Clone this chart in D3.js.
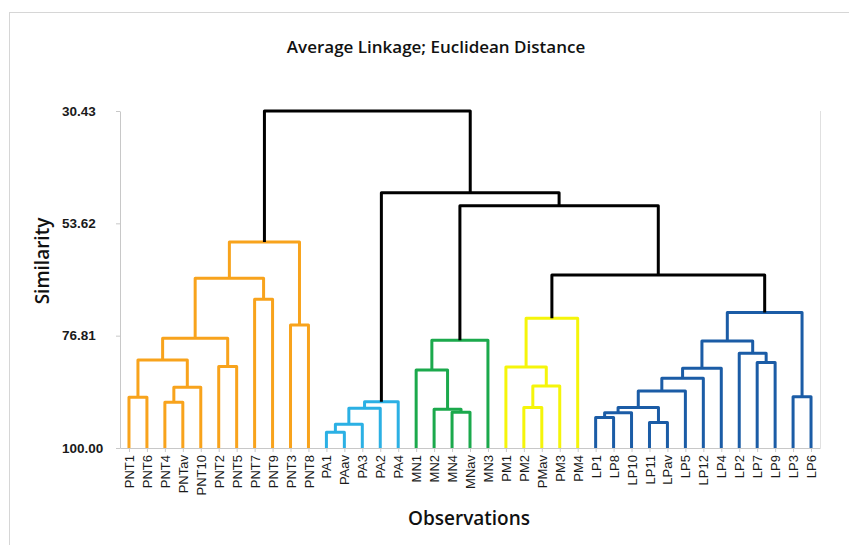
<!DOCTYPE html>
<html>
<head>
<meta charset="utf-8">
<script src="https://cdn.jsdelivr.net/npm/d3@7"></script>
<style>
  body { margin: 0; background: #fff; }
  svg { display: block; font-family: "Open Sans", "Noto Sans", sans-serif; }
  .axis path, .axis line { stroke: #c8c8c8; }
  .axis text { fill: #1a1a1a; }
</style>
</head>
<body>
<svg id="chart" width="849" height="545"></svg>
<script>
// leaves in dendrogram order
var leaves = [
	'PNT1', 'PNT6', 'PNT4', 'PNTav', 'PNT10', 'PNT2', 'PNT5', 'PNT7', 'PNT9', 'PNT3', 'PNT8',
	'PA1', 'PAav', 'PA3', 'PA2', 'PA4',
	'MN1', 'MN2', 'MN4', 'MNav', 'MN3',
	'PM1', 'PM2', 'PMav', 'PM3', 'PM4',
	'LP1', 'LP8', 'LP10', 'LP11', 'LPav', 'LP5', 'LP12', 'LP4', 'LP2', 'LP7', 'LP9', 'LP3', 'LP6'
];

// merges: [left, right, similarity]; numbers refer to earlier merges
var merges = [
	['PNT1', 'PNT6', 89.54],  // 0
	['PNT4', 'PNTav', 90.57], // 1
	[1, 'PNT10', 87.47],      // 2
	[0, 2, 81.83],            // 3
	['PNT2', 'PNT5', 83.2],   // 4
	[3, 4, 77.36],            // 5
	['PNT7', 'PNT9', 69.3],   // 6
	[5, 6, 64.97],            // 7
	['PNT3', 'PNT8', 74.6],   // 8
	[7, 8, 57.47],            // 9
	['PA1', 'PAav', 96.76],   // 10
	[10, 'PA3', 95.1],        // 11
	[11, 'PA2', 91.8],        // 12
	[12, 'PA4', 90.43],       // 13
	['MN4', 'MNav', 92.63],   // 14
	['MN2', 14, 92.0],        // 15
	['MN1', 15, 83.9],        // 16
	[16, 'MN3', 77.77],       // 17
	['PM2', 'PMav', 91.66],   // 18
	[18, 'PM3', 87.2],        // 19
	['PM1', 19, 83.28],       // 20
	[20, 'PM4', 73.23],       // 21
	['LP1', 'LP8', 93.72],    // 22
	[22, 'LP10', 92.7],       // 23
	['LP11', 'LPav', 94.75],  // 24
	[23, 24, 91.66],          // 25
	[25, 'LP5', 88.23],       // 26
	[26, 'LP12', 85.6],       // 27
	[27, 'LP4', 83.55],       // 28
	['LP7', 'LP9', 82.37],    // 29
	['LP2', 29, 80.45],       // 30
	[28, 30, 77.9],           // 31
	['LP3', 'LP6', 89.4],     // 32
	[31, 32, 72.05],          // 33
	[21, 33, 64.29],          // 34
	[17, 34, 49.98],          // 35
	[13, 35, 47.30],          // 36
	[9, 36, 30.43]            // 37
];

var groups = ['PNT', 'PA', 'MN', 'PM', 'LP'];
var groupColors = ['#F8A31C', '#2BB0E4', '#1BA94C', '#F5F50A', '#1B5CA6'];
var yTicks = [30.43, 53.62, 76.81, 100.00];

var svg = d3.select('#chart');

// outer frame
svg.append('rect')
	.attr('x', 9.5).attr('y', 12.5)
	.attr('width', 860).attr('height', 560)
	.attr('fill', 'none').attr('stroke', '#d6d6d6');

var x = d3.scalePoint().domain(leaves).range([120, 820]).padding(0.5);
var y = d3.scaleLinear().domain([30.43, 100]).range([111, 448]);

var groupOf = function( name ) {
	var m = name.match(/^(PNT|PA|MN|PM|LP)/);
	return groups.indexOf( m[1] );
};

// node lookup: leaf name or merge index -> {x, y, group}
var nodes = [];
var node = function( ref ) {
	if ( typeof ref === 'number' ) return nodes[ref];
	return { x: x( ref ), y: y( 100 ), group: groupOf( ref ) };
};

var links = merges.map( function( m, i ) {
	var a = node( m[0] ), b = node( m[1] );
	var g = ( a.group === b.group ) ? a.group : -1;
	var yy = y( m[2] );
	nodes[i] = { x: ( a.x + b.x ) / 2, y: yy, group: g };
	return { a: a, b: b, y: yy, color: g < 0 ? '#000' : groupColors[g] };
});

// axes
var yAxis = svg.append('g').attr('class', 'axis')
	.attr('transform', 'translate(120,0)')
	.call( d3.axisLeft( y ).tickValues( yTicks ).tickSize( 4 ).tickSizeOuter( 0 ).tickFormat( d3.format('.2f') ) );
yAxis.selectAll('text')
	.attr('text-anchor', 'start').attr('x', -58)
	.style('font-size', '13.5px').style('font-weight', 600);

var xAxis = svg.append('g').attr('class', 'axis')
	.attr('transform', 'translate(0,448)')
	.call( d3.axisBottom( x ).tickSize( 4 ).tickSizeOuter( 0 ) );
xAxis.selectAll('text')
	.attr('transform', 'rotate(-90)')
	.attr('text-anchor', 'end')
	.attr('x', -7).attr('y', 0).attr('dy', '0.35em')
	.style('font-size', '13px').style('font-weight', 500);

svg.append('line')
	.attr('x1', 820.5).attr('x2', 820.5)
	.attr('y1', y( 30.43 )).attr('y2', 448)
	.attr('stroke', '#e0e0e0');

// links
svg.append('g').selectAll('path')
	.data( links )
	.enter()
		.append('path')
		.attr('d', function( d ) {
			return 'M' + d.a.x + ',' + d.a.y + 'V' + d.y + 'H' + d.b.x + 'V' + d.b.y;
		})
		.attr('fill', 'none')
		.attr('stroke', function( d ) { return d.color; })
		.attr('stroke-width', 3)
		.attr('stroke-linejoin', 'round');

// titles
svg.append('text')
	.attr('x', 436).attr('y', 53)
	.attr('text-anchor', 'middle')
	.style('font-size', '17px').style('font-weight', 600).style('fill', '#111')
	.text('Average Linkage; Euclidean Distance');

svg.append('text')
	.attr('transform', 'translate(49,261) rotate(-90)')
	.attr('text-anchor', 'middle')
	.style('font-size', '19px').style('font-weight', 600).style('fill', '#111')
	.text('Similarity');

svg.append('text')
	.attr('x', 469).attr('y', 525)
	.attr('text-anchor', 'middle')
	.style('font-size', '19px').style('font-weight', 600).style('fill', '#111')
	.text('Observations');
</script>
</body>
</html>
